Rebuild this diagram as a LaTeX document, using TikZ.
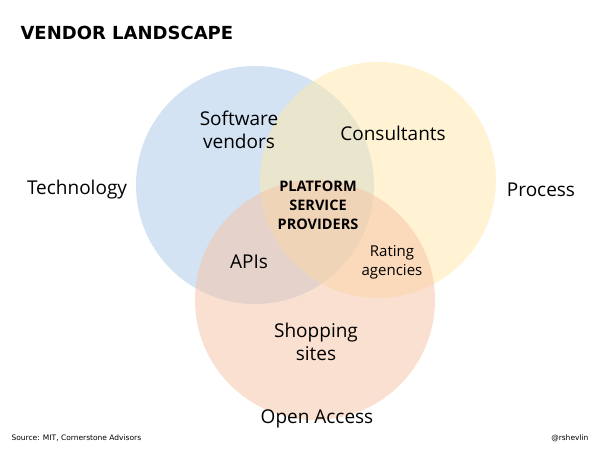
\documentclass[tikz,border=0pt]{standalone}
\usepackage{fontspec}
\setmainfont{Open Sans}
\newfontfamily\dvs{DejaVu Sans}
\begin{document}
\begin{tikzpicture}[x=1pt,y=-1pt,
  lbl/.style={align=center,font=\fontsize{19}{23}\selectfont,text=black},
  circ/.style={draw=none,fill opacity=0.5}]
\useasboundingbox (0,0) rectangle (600,450);
\definecolor{cb}{HTML}{A9C9EA}
\definecolor{cy}{HTML}{FFE9A8}
\definecolor{co}{HTML}{F6C3A3}
\fill[white] (0,0) rectangle (600,450);
\path[circ,fill=cb] (255,185) circle (119);
\path[circ,fill=cy] (378,180) circle (118);
\path[circ,fill=co] (315,300) circle (120);
\node[anchor=west,font=\dvs\fontsize{18}{22}\selectfont\bfseries] (title) at (17,33) {VENDOR LANDSCAPE};
\node[lbl] (sw) at (239,130) {Software\\vendors};
\node[lbl] (cons) at (393,133) {Consultants};
\node[lbl] (tech) at (77,190) {Technology};
\node[lbl] (proc) at (541,190) {Process};
\node[lbl,font=\fontsize{14.5}{19}\selectfont\bfseries] (psp) at (318,205) {PLATFORM\\SERVICE\\PROVIDERS};
\node[lbl] (api) at (249,262) {APIs};
\node[lbl,font=\fontsize{15}{19}\selectfont] (rate) at (392,262) {Rating\\agencies};
\node[lbl] (shop) at (316,342) {Shopping\\sites};
\node[lbl] (open) at (317,419) {Open Access};
\node[anchor=west,font=\dvs\fontsize{7.5}{10}\selectfont] (src) at (8,438) {Source: MIT, Cornerstone Advisors};
\node[anchor=east,font=\dvs\fontsize{7.5}{10}\selectfont] (tw) at (592,438) {@rshevlin};
\end{tikzpicture}
\end{document}
